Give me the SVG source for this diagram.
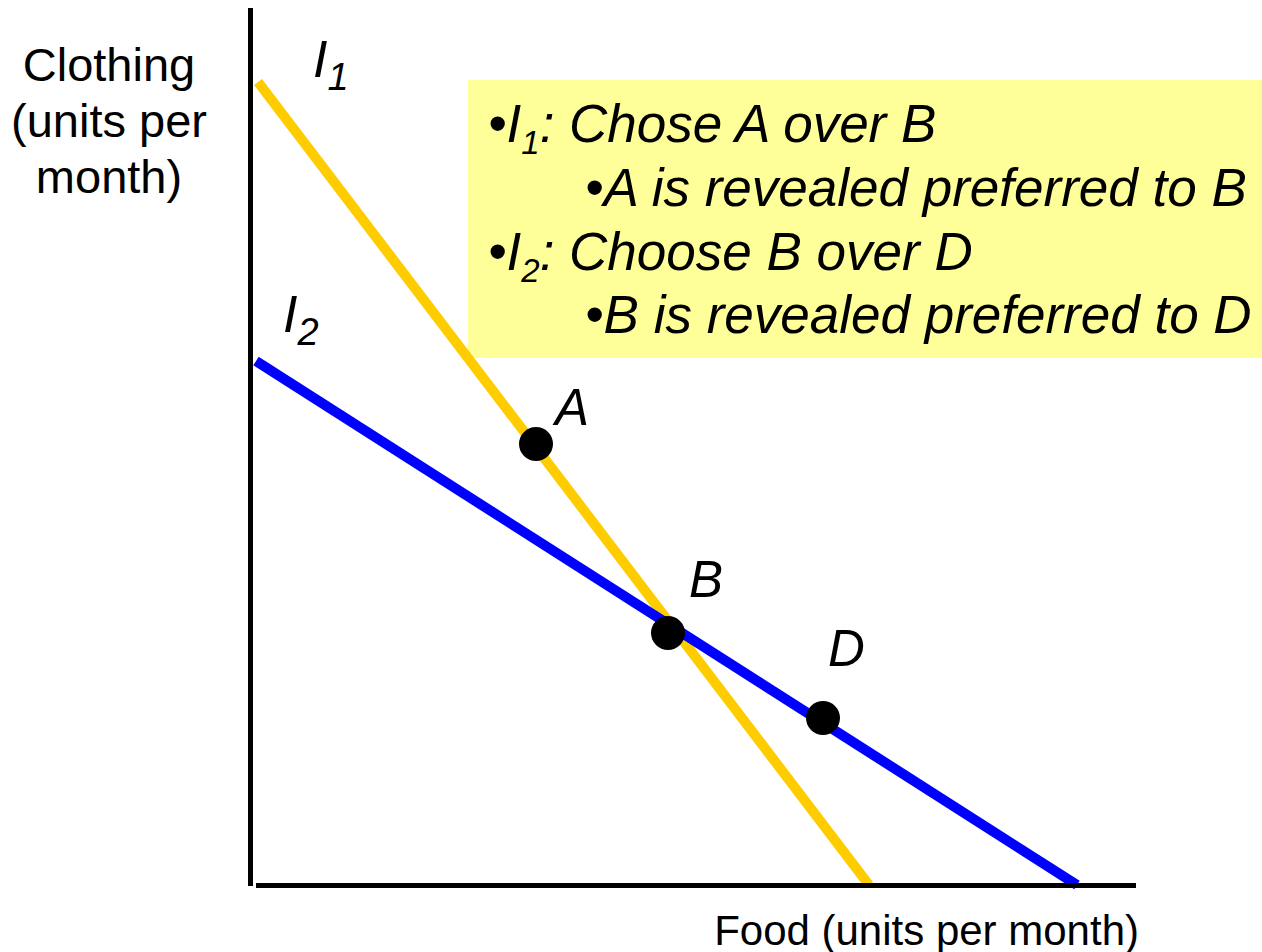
<svg xmlns="http://www.w3.org/2000/svg" width="1262" height="952" viewBox="0 0 1262 952">
<style>
text{font-family:"Liberation Sans",Arial,sans-serif;fill:#000}
.ax{font-size:47px}
.crv{font-size:52px;font-style:italic}
.box{font-size:53px;font-style:italic}
.pt{font-size:51px;font-style:italic}
.dot{fill:#000}
</style>
<rect width="1262" height="952" fill="#fff"/>
<g id="infobox">
<rect x="468" y="80" width="794" height="278" fill="#FFFF99"/>
<text class="box" x="488" y="142">•I<tspan font-size="33" dy="12">1</tspan><tspan dy="-12">: Chose A over B</tspan></text>
<text class="box" x="585" y="206">•A is revealed preferred to B</text>
<text class="box" x="488" y="270">•I<tspan font-size="33" dy="12">2</tspan><tspan dy="-12">: Choose B over D</tspan></text>
<text class="box" x="585" y="333">•B is revealed preferred to D</text>
</g>
<g id="connectors">
<line id="I1-line" x1="258" y1="82" x2="869" y2="885" stroke="#FFCC00" stroke-width="10"/>
<line id="I2-line" x1="256" y1="361" x2="1077" y2="885" stroke="#0000FF" stroke-width="10"/>
<line id="y-axis" x1="250.5" y1="8" x2="250.5" y2="886" stroke="#000" stroke-width="5"/>
<line id="x-axis" x1="256" y1="885.5" x2="1136" y2="885.5" stroke="#000" stroke-width="5"/>
</g>
<g id="y-label">
<text class="ax" x="109" y="81" text-anchor="middle">Clothing</text>
<text class="ax" x="109" y="137" text-anchor="middle">(units per</text>
<text class="ax" x="109" y="193" text-anchor="middle">month)</text>
</g>
<g id="x-label">
<text x="1139" y="945" font-size="42" text-anchor="end">Food (units per month)</text>
</g>
<g id="label-I1"><text class="crv" x="313" y="77">I<tspan font-size="38" dy="13">1</tspan></text></g>
<g id="label-I2"><text class="crv" x="283" y="332">I<tspan font-size="38" dy="13">2</tspan></text></g>
<g id="point-A"><circle class="dot" cx="536" cy="444" r="17"/><text class="pt" x="555" y="425">A</text></g>
<g id="point-B"><circle class="dot" cx="668" cy="633" r="17"/><text class="pt" x="689" y="597">B</text></g>
<g id="point-D"><circle class="dot" cx="823" cy="718" r="17"/><text class="pt" x="828" y="666">D</text></g>
</svg>
